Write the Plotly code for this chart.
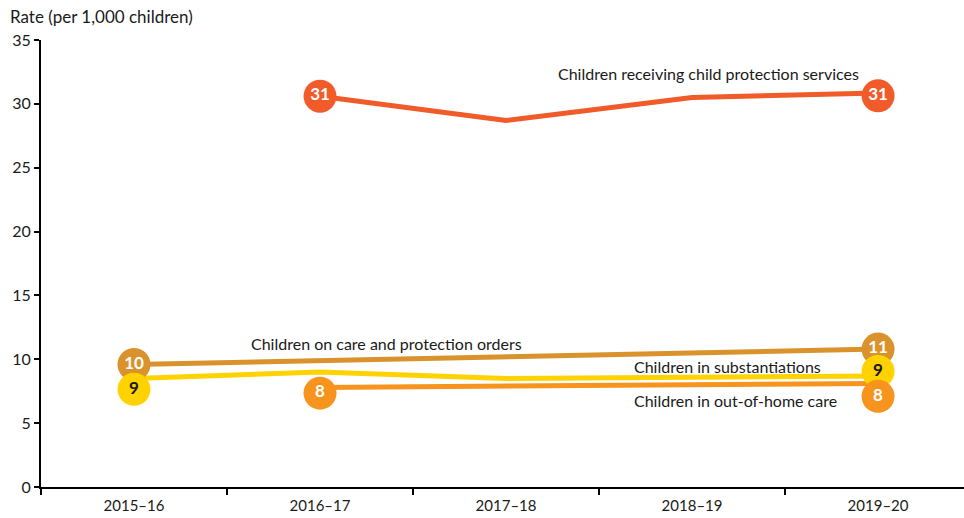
import math
import plotly.graph_objects as go

years = ["2015–16", "2016–17", "2017–18", "2018–19", "2019–20"]

# Rates per 1,000 children (None where not reported)
cps = [None, 30.6, 28.7, 30.5, 30.85]
orders = [9.6, 9.9, 10.2, 10.5, 10.8]
substantiations = [8.5, 9.0, 8.5, 8.6, 8.7]
out_of_home = [None, 7.8, 7.9, 8.0, 8.1]

series = [
    ("Children receiving child protection services", cps, "#F15A29", "white"),
    ("Children on care and protection orders", orders, "#D9922C", "white"),
    ("Children in substantiations", substantiations, "#FFD200", "#1a1a1a"),
    ("Children in out-of-home care", out_of_home, "#F7941D", "white"),
]

# Vertical nudges (in rate units) for value bubbles so they don't overlap
bubble_nudge = {
    "Children receiving child protection services": {4: -0.22},
    "Children in substantiations": {0: -0.85, 4: 0.35},
    "Children in out-of-home care": {1: -0.45, 4: -1.0},
}


def half_up(v):
    return int(math.floor(v + 0.5))


FONT = "Lato"
fig = go.Figure()

for name, vals, color, txtcol in series:
    fig.add_trace(go.Scatter(
        x=years, y=vals, mode="lines", name=name,
        line=dict(color=color, width=5), connectgaps=False,
        hoverinfo="skip", showlegend=False,
    ))

for name, vals, color, txtcol in series:
    valid = [i for i, v in enumerate(vals) if v is not None]
    ends = [valid[0], valid[-1]]
    nud = bubble_nudge.get(name, {})
    fig.add_trace(go.Scatter(
        x=[years[i] for i in ends],
        y=[vals[i] + nud.get(i, 0) for i in ends],
        mode="markers+text",
        marker=dict(size=33, color=color, line=dict(width=0)),
        text=[f"{half_up(vals[i])}" for i in ends],
        textposition="middle center",
        textfont=dict(family=FONT, size=17, color=txtcol, weight="bold"),
        showlegend=False, hoverinfo="skip", cliponaxis=False,
    ))

label_font = dict(family=FONT, size=16, color="#1a1a1a")
annos = [
    dict(x=3.09, y=32.4, text="Children receiving child protection services", xanchor="center"),
    dict(x=1.36, y=11.2, text="Children on care and protection orders", xanchor="center"),
    dict(x=2.677, y=9.4, text="Children in substantiations", xanchor="left"),
    dict(x=2.677, y=6.8, text="Children in out-of-home care", xanchor="left"),
]
for a in annos:
    fig.add_annotation(xref="x", yref="y", showarrow=False, yanchor="middle",
                       font=label_font, **a)

fig.add_annotation(xref="paper", yref="paper", x=-0.036, y=1.0, yshift=11,
                   xanchor="left", yanchor="bottom", showarrow=False,
                   text="Rate (per 1,000 children)",
                   font=dict(family=FONT, size=17, color="#1a1a1a"))

fig.update_layout(
    width=964, height=518,
    margin=dict(l=41, r=0, t=40, b=31),
    paper_bgcolor="white", plot_bgcolor="white",
    font=dict(family=FONT, size=15, color="#1a1a1a"),
    xaxis=dict(
        type="category", categoryorder="array", categoryarray=years,
        range=[-0.5, 4.462], tickson="boundaries",
        showline=True, linecolor="black", linewidth=2,
        ticks="outside", ticklen=6, tickwidth=1.5, tickcolor="black",
        ticklabelstandoff=4,
        showgrid=False, zeroline=False, tickfont=dict(size=15),
    ),
    yaxis=dict(
        range=[0, 35], dtick=5,
        showline=True, linecolor="black", linewidth=2,
        ticks="outside", ticklen=5, tickwidth=1.5, tickcolor="black",
        showgrid=False, zeroline=False, tickfont=dict(size=16),
    ),
)

fig.write_html("out.html")
